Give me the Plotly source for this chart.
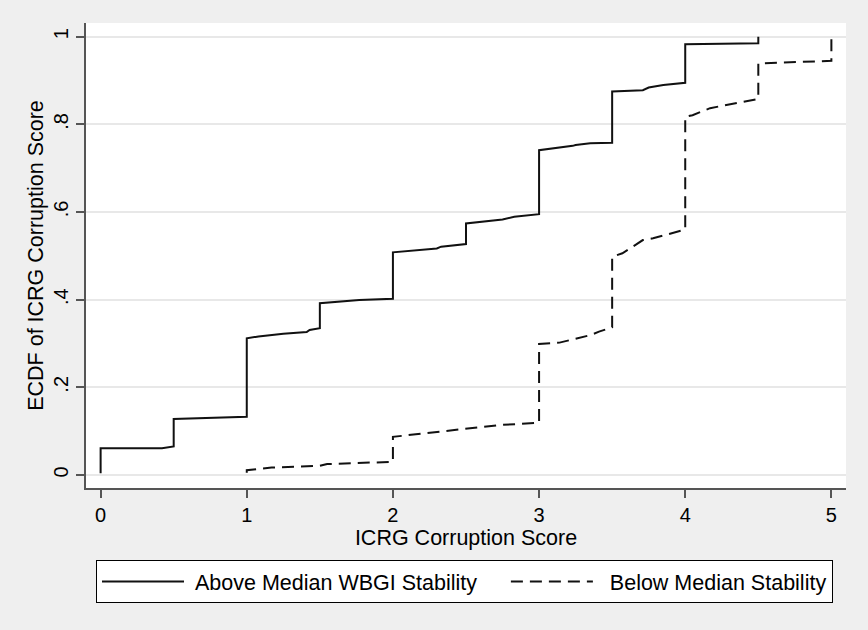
import plotly.graph_objects as go

# ECDF points (x = ICRG corruption score, y = cumulative share)
above_x = [0, 0, 0.42, 0.5, 0.5, 0.92, 1.0, 1.0, 1.08, 1.25, 1.41, 1.43, 1.5, 1.5, 1.77, 2.0, 2.0,
           2.3, 2.33, 2.5, 2.5, 2.75, 2.83, 3.0, 3.0, 3.23, 3.25, 3.35, 3.5, 3.5, 3.71, 3.75,
           3.85, 4.0, 4.0, 4.5, 4.5]
above_y = [0.004, 0.061, 0.061, 0.065, 0.128, 0.131, 0.133, 0.312, 0.316, 0.322, 0.326, 0.331,
           0.335, 0.392, 0.399, 0.402, 0.508, 0.517, 0.521, 0.527, 0.574, 0.583, 0.589, 0.595,
           0.741, 0.751, 0.753, 0.757, 0.758, 0.875, 0.878, 0.884, 0.890, 0.895, 0.983, 0.985, 1.0]

below_x = [1.0, 1.0, 1.17, 1.5, 1.55, 2.0, 2.0, 2.46, 2.57, 2.73, 3.0, 3.0, 3.14, 3.35, 3.41,
           3.5, 3.5, 3.57, 3.66, 3.71, 3.78, 4.0, 4.0, 4.05, 4.17, 4.33, 4.5, 4.5, 5.0, 5.0]
below_y = [0.005, 0.011, 0.017, 0.021, 0.025, 0.030, 0.087, 0.103, 0.108, 0.114, 0.119, 0.299,
           0.302, 0.319, 0.327, 0.337, 0.498, 0.506, 0.525, 0.536, 0.540, 0.560, 0.817, 0.821,
           0.837, 0.848, 0.858, 0.939, 0.945, 1.0]

series_names = ["Above Median WBGI Stability", "Below Median Stability"]
x_ticks = [0, 1, 2, 3, 4, 5]
y_ticks = [0, 0.2, 0.4, 0.6, 0.8, 1.0]
y_tick_labels = ["0", ".2", ".4", ".6", ".8", "1"]

FONT = "Liberation Sans, Arial, sans-serif"
NB = "\u00a0"

fig = go.Figure()
fig.add_trace(go.Scatter(x=above_x, y=above_y, mode="lines",
                         name=NB + series_names[0] + NB * 4,
                         line=dict(color="#111111", width=2)))
fig.add_trace(go.Scatter(x=below_x, y=below_y, mode="lines",
                         name=NB * 2 + series_names[1],
                         line=dict(color="#111111", width=2, dash="12px,7px")))

fig.update_layout(
    width=868, height=630,
    margin=dict(l=86, r=22, t=23, b=142),
    paper_bgcolor="#efefef",
    plot_bgcolor="white",
    font=dict(family=FONT, size=20, color="black"),
    showlegend=True,
    legend=dict(
        orientation="h",
        xref="container", yref="container",
        x=96 / 868, y=1 - 560 / 630,
        xanchor="left", yanchor="top",
        bgcolor="white", bordercolor="black", borderwidth=1,
        itemwidth=82,
        font=dict(family=FONT, size=21.5, color="black"),
    ),
    xaxis=dict(
        range=[-0.1, 5.1],
        tickvals=x_ticks,
        ticks="outside", ticklen=8, tickwidth=1.5, tickcolor="#555555",
        showline=True, linecolor="#555555", linewidth=1.5,
        showgrid=False, zeroline=False,
        title=dict(text="ICRG Corruption Score", standoff=1, font=dict(size=21.5)),
        tickfont=dict(size=20),
    ),
    yaxis=dict(
        range=[-0.0297, 1.0313],
        tickvals=y_ticks, ticktext=y_tick_labels,
        tickangle=-90,
        ticks="outside", ticklen=8, tickwidth=1.5, tickcolor="#555555",
        showline=True, linecolor="#555555", linewidth=1.5,
        showgrid=True, gridcolor="#e8e8e8", gridwidth=1.5,
        zeroline=False,
        title=dict(text="ECDF of ICRG Corruption Score", standoff=1, font=dict(size=21.5)),
        tickfont=dict(size=20),
    ),
)

fig.write_html("out.html")
